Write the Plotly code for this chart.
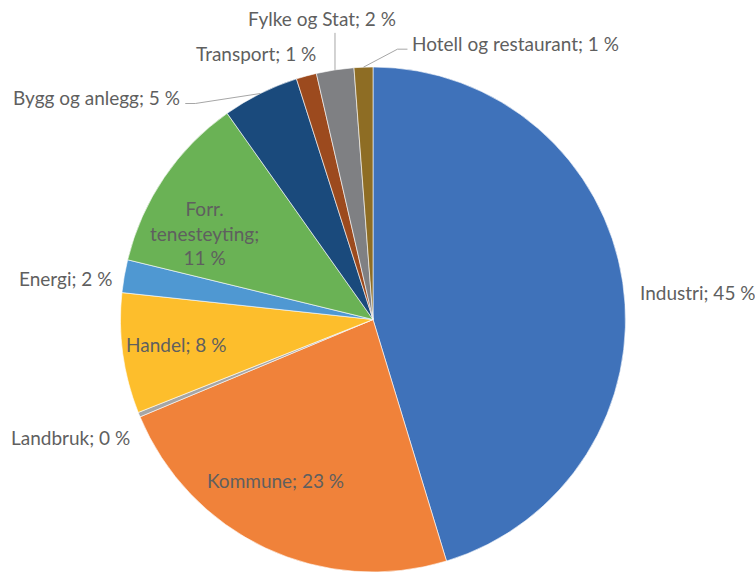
import math
import plotly.graph_objects as go

# ---- data ----
categories = ["Industri", "Kommune", "Landbruk", "Handel", "Energi",
              "Forr. tenesteyting", "Bygg og anlegg", "Transport",
              "Fylke og Stat", "Hotell og restaurant"]
values = [45.3, 23.4, 0.3, 7.7, 2.1, 11.4, 4.9, 1.3, 2.4, 1.2]

# ---- style ----
colors = ["#3F72BA", "#F0823A", "#A6A6A6", "#FDBE2C", "#4F98D2",
          "#6AB255", "#1A4A7C", "#9C4A1E", "#7F8083", "#8E6D24"]
W, H = 755, 572
CX, CY, R = 373, 320, 253          # pie centre / radius in pixels
TEXT_COLOR = "#5F5F5F"
FONT = "Lato"
FSIZE = 19
LINE_COLOR = "#A6A6A6"

# label placement: (radius fraction, dx, dy, xanchor, wrap, leader)
label_spec = {
    "Industri":             (1.00, 15, 10, "left", False, None),
    "Kommune":              (0.74, -18, -9, "center", False, None),
    "Landbruk":             (1.00, -7, 22, "right", False, None),
    "Handel":               (0.78, -1, -2, "center", False, None),
    "Energi":               (1.00, -10, 2, "right", False, None),
    "Forr. tenesteyting":   (0.75, -12, 20, "center", True, None),
    "Bygg og anlegg":       (1.00, -78, 4, "right", False, "elbow"),
    "Transport":            (1.00, -50, -22, "center", False, None),
    "Fylke og Stat":        (1.00, -13, -51, "center", False, "vertical"),
    "Hotell og restaurant": (1.00, 47, -24, "left", False, "elbow"),
}

fig = go.Figure(go.Pie(
    labels=categories, values=values, sort=False, direction="clockwise",
    rotation=0, marker=dict(colors=colors, line=dict(color="white", width=0.6)),
    textinfo="none", hoverinfo="label+percent", showlegend=False,
    domain=dict(x=[(CX - R) / W, (CX + R) / W],
                y=[max(0.0, (H - (CY + R)) / H), 1 - (CY - R) / H]),
))

def px2paper(x, y):
    return x / W, 1 - y / H

def polar(angle_deg, rf):
    a = math.radians(angle_deg)
    return CX + rf * R * math.sin(a), CY - rf * R * math.cos(a)

total = sum(values)
cum = 0.0
annotations, shapes = [], []
for cat, v in zip(categories, values):
    mid = (cum + v / 2) / total * 360
    cum += v
    rf, dx, dy, xa, wrap, leader = label_spec[cat]
    ex, ey = polar(mid, rf)
    lx, ly = ex + dx, ey + dy
    pct = round(v / total * 100)
    if wrap:
        text = cat.replace(" ", "<br>") + ";<br>" + f"{pct} %"
    else:
        text = f"{cat}; {pct} %"
    px, py = px2paper(lx, ly)
    annotations.append(dict(x=px, y=py, xref="paper", yref="paper", text=text,
                            showarrow=False, xanchor=xa, yanchor="middle",
                            font=dict(family=FONT, size=FSIZE, color=TEXT_COLOR)))
    if leader:
        ax, ay = polar(mid, 1.0)
        if leader == "vertical":
            pts = [(ax, ay), (ax, ly + 14)]
        else:
            side = -1 if xa == "right" else 1
            bx = lx - side * 3
            pts = [(ax, ay), (bx - side * 10, ly + 6), (bx, ly + 6)]
        path = "M " + " L ".join(f"{px2paper(x, y)[0]},{px2paper(x, y)[1]}" for x, y in pts)
        shapes.append(dict(type="path", path=path, xref="paper", yref="paper",
                           line=dict(color=LINE_COLOR, width=1)))

fig.update_layout(width=W, height=H, margin=dict(l=0, r=0, t=0, b=0),
                  paper_bgcolor="white", plot_bgcolor="white",
                  annotations=annotations, shapes=shapes)
fig.write_html("out.html", config={"displayModeBar": False},
               post_script="document.body.style.margin='0';")
